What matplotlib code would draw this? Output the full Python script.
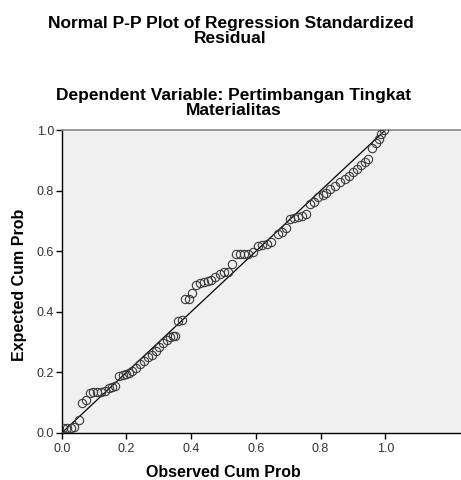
import numpy as np
import matplotlib.pyplot as plt

plt.rcParams['font.family'] = ['Liberation Sans', 'DejaVu Sans']

# observed vs expected cumulative probabilities
observed = [0.005, 0.015, 0.028, 0.038, 0.052, 0.063, 0.075,
            0.086, 0.098, 0.110, 0.122, 0.134, 0.145, 0.156, 0.166,
            0.177, 0.188, 0.198, 0.208, 0.218, 0.230, 0.242, 0.254,
            0.266, 0.278, 0.290, 0.302, 0.314, 0.325, 0.334, 0.343,
            0.351, 0.360, 0.371, 0.382, 0.393, 0.403, 0.416, 0.428,
            0.440, 0.452, 0.462, 0.474, 0.488, 0.501, 0.514, 0.527,
            0.540, 0.552, 0.564, 0.577, 0.590, 0.606, 0.620, 0.634,
            0.648, 0.668, 0.682, 0.694, 0.706, 0.717, 0.729, 0.742,
            0.754, 0.767, 0.780, 0.793, 0.806, 0.818, 0.830, 0.845,
            0.860, 0.875, 0.888, 0.900, 0.913, 0.924, 0.937, 0.948,
            0.958, 0.971, 0.979, 0.988, 0.996]
expected = [0.015, 0.017, 0.018, 0.020, 0.043, 0.100, 0.108,
            0.133, 0.134, 0.135, 0.136, 0.138, 0.147, 0.153, 0.156,
            0.188, 0.190, 0.194, 0.199, 0.203, 0.213, 0.228, 0.237,
            0.250, 0.259, 0.272, 0.285, 0.296, 0.308, 0.318, 0.320,
            0.321, 0.370, 0.372, 0.443, 0.443, 0.462, 0.490, 0.495,
            0.498, 0.501, 0.505, 0.515, 0.526, 0.530, 0.533, 0.557,
            0.590, 0.591, 0.591, 0.592, 0.596, 0.618, 0.622, 0.625,
            0.630, 0.658, 0.664, 0.676, 0.705, 0.710, 0.713, 0.716,
            0.724, 0.757, 0.764, 0.778, 0.785, 0.792, 0.805, 0.816,
            0.828, 0.840, 0.850, 0.860, 0.873, 0.886, 0.895, 0.903,
            0.942, 0.956, 0.970, 0.988, 1.000]
ticks = [0.0, 0.2, 0.4, 0.6, 0.8, 1.0]

fig = plt.figure(figsize=(4.61, 4.80), dpi=100)
ax = fig.add_axes([0.134, 0.098, 0.866, 0.631])
ax.set_facecolor('#f0f0f0')

ax.plot([0, 1], [0, 1], color='black', lw=0.9, zorder=2)
ax.plot(observed, expected, 'o', ms=6, mfc='none', mec='#3a3a3a', mew=0.8, zorder=3)

ax.set_xlim(0, 1.234)
ax.set_ylim(0, 1.0)
ax.set_xticks(ticks)
ax.set_yticks(ticks)
ax.set_xticklabels(['%.1f' % t for t in ticks])
ax.set_yticklabels(['%.1f' % t for t in ticks])
ax.tick_params(direction='out', length=4.5, width=1, labelsize=9,
               labelcolor='#333333')
ax.tick_params(axis='x', pad=3)
ax.tick_params(axis='y', pad=1)

for s in ['left', 'bottom']:
    ax.spines[s].set_color('black')
    ax.spines[s].set_linewidth(1)
ax.spines['top'].set_color('#888888')
ax.spines['top'].set_linewidth(1.2)
ax.spines['right'].set_visible(False)

ax.set_xlabel('Observed Cum Prob', fontsize=11.5, fontweight='bold')
ax.set_ylabel('Expected Cum Prob', fontsize=11.5, fontweight='bold')
ax.xaxis.set_label_coords(0.404, -0.106)
ax.yaxis.set_label_coords(-0.087, 0.49)

fig.text(0.5, 0.935, 'Normal P-P Plot of Regression Standardized\nResidual',
         ha='center', va='center', fontsize=12.5, fontweight='bold', linespacing=1.0)
fig.text(0.507, 0.785, 'Dependent Variable: Pertimbangan Tingkat\nMaterialitas',
         ha='center', va='center', fontsize=12.5, fontweight='bold', linespacing=1.0)

fig.savefig('out.png', dpi=100)
